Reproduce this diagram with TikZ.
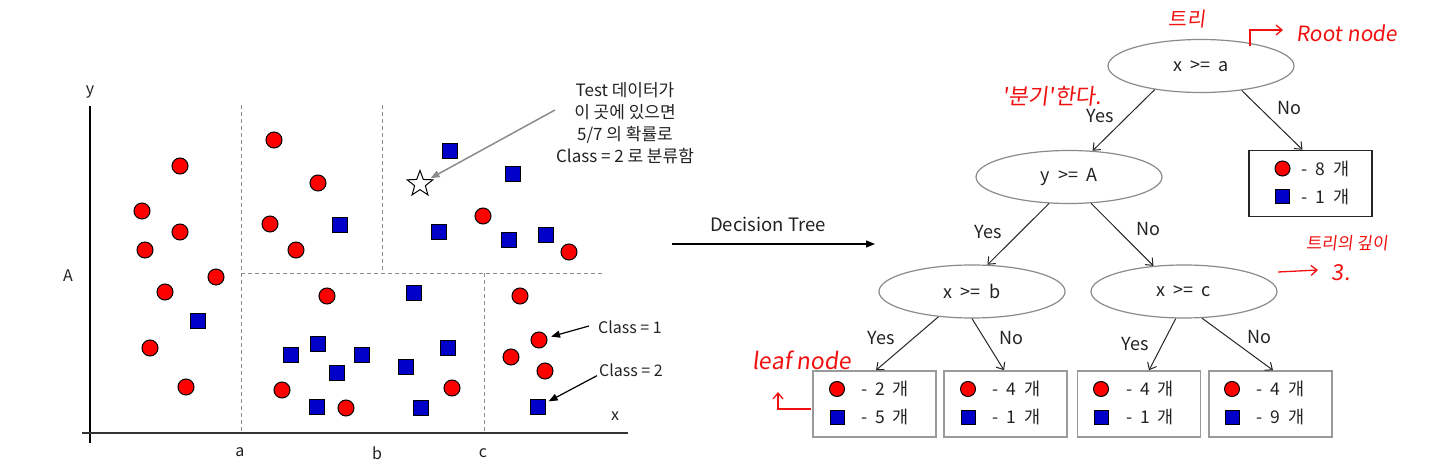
\documentclass[tikz,border=0pt]{standalone}
\usepackage{fontspec}
\setmainfont{Noto Sans CJK KR}
\newfontfamily\handfont{Noto Sans CJK KR}[FakeSlant=0.12]
\usetikzlibrary{shapes.geometric,arrows.meta}
\definecolor{ptred}{HTML}{FF0000}
\definecolor{ptblue}{HTML}{0000C8}
\definecolor{txt}{HTML}{222222}
\definecolor{dashg}{HTML}{8C8C8C}
\definecolor{ellg}{HTML}{8A8A8A}
\definecolor{boxg}{HTML}{9A9A9A}
\definecolor{inkred}{HTML}{F01010}
\newcommand\wsp{\hspace{0.45em}}
\newcommand\mkleaf[8]{%
  \node[leafbox,#8] (#1) at (#2,#3) {};
  \node[sdot] (#1d) at ([xshift=#6pt,yshift=15pt]#1.center) {};
  \node[leaftext] (#1t) at ([xshift=#7pt,yshift=15pt]#1.center) {-\wsp{}#4\wsp{}개};
  \node[ssq] (#1s) at ([xshift=#6pt,yshift=-13pt]#1.center) {};
  \node[leaftext] (#1u) at ([xshift=#7pt,yshift=-13pt]#1.center) {-\wsp{}#5\wsp{}개};
}
\begin{document}
\begin{tikzpicture}[x=1pt,y=-1pt,
  font=\fontsize{16}{19}\selectfont, text=txt,
  dot/.style={circle,fill=ptred,draw=black,line width=1pt,minimum size=16pt,inner sep=0pt},
  sq/.style={rectangle,fill=ptblue,draw=black,line width=1pt,minimum size=15pt,inner sep=0pt},
  sdot/.style={dot,minimum size=15pt},
  ssq/.style={sq,minimum size=14pt},
  part/.style={draw=dashg,line width=0.9pt,dash pattern=on 4pt off 3pt},
  cond/.style={ellipse,draw=ellg,line width=1.2pt,minimum width=186pt,minimum height=53pt,inner sep=0pt,
    font=\fontsize{18}{20}\selectfont},
  leafbox/.style={rectangle,draw=boxg,line width=1.5pt,minimum width=123pt,minimum height=66pt,inner sep=0pt},
  leaftext/.style={inner sep=0pt,font=\fontsize{17.5}{20}\selectfont},
  edge/.style={-{Straight Barb[length=6pt,width=10pt]},line width=1pt,draw=black!85},
  lab/.style={inner sep=0pt},
  elab/.style={inner sep=0pt,font=\fontsize{18}{20}\selectfont},
  hand/.style={text=inkred,inner sep=0pt},
  inkarrow/.style={draw=inkred,line width=1.3pt,-{Straight Barb[length=6pt,width=10pt]}},
  filledarrow/.style={-{Triangle[length=9pt,width=7pt]},line width=1.2pt}]
\useasboundingbox (0,0) rectangle (1433,468);

% ---------------- scatter plot ----------------
\draw[black,line width=1.4pt] (90,106) -- (90,443);
\draw[black!80,line width=1.4pt] (82,433) -- (628,433);
\node[lab] (ylab) at (90,92) {y};
\node[lab] (xlab) at (615,416) {x};
\node[lab] (Alab) at (68,276) {A};
\node[lab] (alab) at (240,452) {a};
\node[lab] (blab) at (377,453) {b};
\node[lab] (clab) at (483,453) {c};

\draw[part] (241,105) -- (241,433);
\draw[part] (382,105) -- (382,273);
\draw[part] (241,273) -- (603,273);
\draw[part] (484,273) -- (484,433);

\foreach \px/\py [count=\i] in {180/166,142/211,180/232,145/250,216/277,165/292,150/348,186/387,
  274/140,318/183,270/224,296/250,483/216,569/252,327/296,282/390,346/408,452/388,
  520/296,539/340,511/357,545/371}
  {\node[dot] (r\i) at (\px,\py) {};}
\foreach \px/\py [count=\i] in {198/321,340/225,450/151,513/174,439/232,509/240,546/235,
  414/293,318/344,291/355,362/355,337/373,406/367,448/348,317/407,421/408,538/407}
  {\node[sq] (b\i) at (\px,\py) {};}

\node[star,star points=5,star point ratio=2.4,draw=black,fill=white,line width=1pt,
  minimum size=27pt,inner sep=0pt] (star) at (420,184) {};

\node[lab,align=center,font=\fontsize{17}{22}\selectfont] (test) at (625,123)
  {Test 데이터가\\이 곳에 있으면\\5/7 의 확률로\\Class = 2 로 분류함};
\coordinate (ta) at (555,110);
\draw[draw=black!45,filledarrow,line width=1.5pt,shorten >=2pt] (ta) -- (star);

\node[lab] (cl1) at (630,327) {Class = 1};
\node[lab] (cl2) at (631,370) {Class = 2};
\draw[filledarrow,shorten >=4pt] ([xshift=-9pt,yshift=1pt]cl1.west) -- (r20);
\draw[filledarrow,shorten >=3pt] ([xshift=-2pt,yshift=1pt]cl2.south west) -- (b17);

% ---------------- arrow ----------------
\coordinate (dt0) at (672,244);
\coordinate (dt1) at (875,244);
\draw[filledarrow,line width=1.3pt] (dt0) -- (dt1);
\node[lab,font=\fontsize{18.5}{20}\selectfont] (dtl) at (768,224) {Decision Tree};

% ---------------- tree ----------------
\node[cond] (root) at (1201,66) {x\wsp{}>=\wsp{}a};
\node[cond] (yA) at (1069,177) {y\wsp{}>=\wsp{}A};
\node[cond] (xb) at (972,291.5) {x\wsp{}>=\wsp{}b};
\node[cond] (xc) at (1184,291.5) {x\wsp{}>=\wsp{}c};

\mkleaf{bR}{1310.5}{183.5}{8}{1}{-28}{15}{draw=black!85}
\mkleaf{b1}{874.5}{404}{2}{5}{-37.5}{10.5}{}
\mkleaf{b2}{1005.5}{404}{4}{1}{-37.5}{11}{}
\mkleaf{b3}{1139}{404}{4}{1}{-38}{11}{}
\mkleaf{b4}{1270.5}{404}{4}{9}{-38.5}{10}{}

\draw[edge] (root.207) -- (yA.48);
\draw[edge] (root.-31) -- ([xshift=-8pt]bR.north);
\draw[edge] (yA.233) -- (xb.60);
\draw[edge] (yA.-50) -- (xc.140);
\draw[edge] (xb.217) -- ([xshift=1.5pt]b1.north);
\draw[edge] (xb.south) -- ([xshift=-1.5pt]b2.north);
\draw[edge] (xc.253) -- ([xshift=10pt]b3.north);
\draw[edge] (xc.-56) -- ([xshift=2.5pt]b4.north);

\node[elab] (e1) at (1100,116) {Yes};
\node[elab] (e2) at (1289,108) {No};
\node[elab] (e3) at (988,232) {Yes};
\node[elab] (e4) at (1148,229) {No};
\node[elab] (e5) at (881,338) {Yes};
\node[elab] (e6) at (1011,338) {No};
\node[elab] (e7) at (1135,344) {Yes};
\node[elab] (e8) at (1259,337) {No};

% ---------------- red handwriting ----------------
\node[hand,font=\handfont\fontsize{20}{22}\selectfont] (h1) at (1187,19) {트리};
\node[hand,font=\handfont\fontsize{21}{22}\selectfont] (h2) at (1347,33) {Root node};
\coordinate (hr0) at (1250,46);
\coordinate (hr1) at (1283,30);
\draw[inkarrow] (hr0) |- (hr1);
\node[hand,font=\handfont\fontsize{22}{24}\selectfont] (h3) at (1052,96) {'분기'한다.};
\node[hand,font=\handfont\fontsize{17}{20}\selectfont] (h4) at (1347,243) {트리의 깊이};
\coordinate (hd0) at (1278,272);
\coordinate (hd1) at (1318,270);
\draw[inkarrow] (hd0) -- (hd1);
\node[hand,font=\handfont\fontsize{22}{24}\selectfont] (h5) at (1341,273) {3.};
\node[hand,font=\handfont\fontsize{23}{24}\selectfont] (h6) at (802,360) {leaf node};
\coordinate (hl0) at (811,409);
\coordinate (hl1) at (778,392);
\draw[inkarrow] (hl0) -| (hl1);
\end{tikzpicture}
\end{document}
